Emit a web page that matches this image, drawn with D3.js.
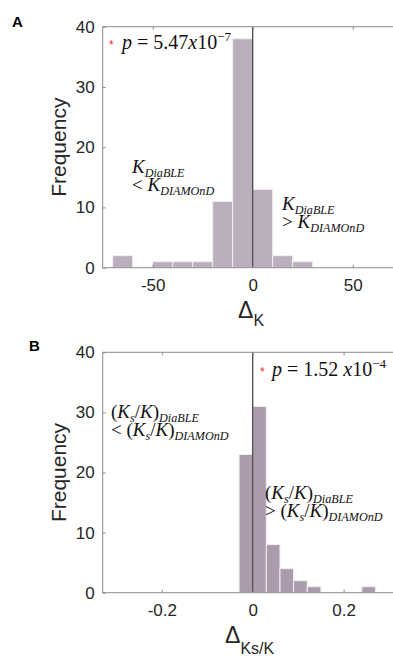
<!DOCTYPE html>
<html>
<head>
<meta charset="utf-8">
<script src="https://cdn.jsdelivr.net/npm/d3@7"></script>
<style>
  body { margin: 0; background: #fff; }
  svg { display: block; overflow: hidden; }
</style>
</head>
<body>
<svg id="chart" width="393" height="656"></svg>
<script>
// Data

// Panel A: histogram of Delta_K (bin edges and counts)
var edgesA = [-70, -60, -50, -40, -30, -20, -10, 0, 10, 20, 30];
var countsA = [2, 0, 1, 1, 1, 11, 38, 13, 2, 1];
var xTicksA = [-50, 0, 50];

// Panel B: histogram of Delta_Ks/K
var edgesB = [-0.03, 0, 0.03, 0.06, 0.09, 0.12, 0.15, 0.18, 0.21, 0.24, 0.27];
var countsB = [23, 31, 8, 4, 2, 1, 0, 0, 0, 1];
var xTicksB = [-0.2, 0, 0.2];

var yTicks = [0, 10, 20, 30, 40];

var svg = d3.select("#chart");
var sansFont = "Liberation Sans, Arial, sans-serif";
var serifFont = "Liberation Serif, Times New Roman, serif";
var left = 102.7, plotW = 300;

// Draw text made of pieces: [text, kind] where kind is
// 'i' italic, 'r' roman, 'sub' italic subscript, 'sup' superscript,
// 'br' starts a new line (lineH below the previous one)
function mathText(g, x, y, parts, size, lineH) {
  var t = g.append("text")
    .attr("x", x).attr("y", y)
    .style("font-family", serifFont)
    .style("font-size", size + "px")
    .style("fill", "#111");
  var shift = 0;
  parts.forEach(function(p) {
    if (p[1] == 'br') {
      shift -= lineH;
      return;
    }
    var target = 0, fs = size, st = "italic";
    if (p[1] == 'r') st = "normal";
    if (p[1] == 'sub') { target = size * 0.2; fs = size * 0.64; }
    if (p[1] == 'sup') { target = -size * 0.42; fs = size * 0.66; st = "normal"; }
    var ts = t.append("tspan")
      .attr("dy", target - shift)
      .style("font-size", fs + "px")
      .style("font-style", st)
      .text(p[0]);
    if (shift < -1) ts.attr("x", x);
    shift = target;
  });
  return t;
}

function drawPanel(opt) {
  var top = opt.top, bottom = opt.bottom;
  var x = d3.scaleLinear().domain(opt.xdomain).range([left, left + plotW]);
  var y = d3.scaleLinear().domain([0, 40]).range([bottom, top]);
  var g = svg.append("g");

  var bins = opt.counts.map(function(c, i) {
    return { x0: opt.edges[i], x1: opt.edges[i + 1], n: c };
  }).filter(function(d) { return d.n > 0; });

  g.selectAll("rect.bar")
    .data(bins)
    .enter().append("rect")
    .attr("class", "bar")
    .attr("x", function(d) { return x(d.x0); })
    .attr("y", function(d) { return y(d.n); })
    .attr("width", function(d) { return x(d.x1) - x(d.x0); })
    .attr("height", function(d) { return y(0) - y(d.n); })
    .attr("fill", opt.color)
    .attr("stroke", "#f2eff3")
    .attr("stroke-width", 1);

  // zero line
  g.append("line")
    .attr("x1", x(0)).attr("x2", x(0))
    .attr("y1", top).attr("y2", bottom)
    .attr("stroke", "#4a4a4a")
    .attr("stroke-width", 1.3);

  // box and inward ticks
  var axisColor = "#8c8c8c";
  g.append("rect")
    .attr("x", left).attr("y", top)
    .attr("width", plotW).attr("height", bottom - top)
    .attr("fill", "none")
    .attr("stroke", axisColor)
    .attr("stroke-width", 1);

  var yAxis = g.append("g")
    .attr("transform", "translate(" + left + ",0)")
    .call(d3.axisLeft(y).tickValues(yTicks).tickSizeInner(-3).tickSizeOuter(0).tickPadding(8));
  var xAxis = g.append("g")
    .attr("transform", "translate(0," + bottom + ")")
    .call(d3.axisBottom(x).tickValues(opt.xticks).tickSizeInner(-3).tickSizeOuter(0).tickPadding(11)
      .tickFormat(function(d) { return d == 0 ? "0" : String(d); }));
  var xTop = g.append("g")
    .attr("transform", "translate(0," + top + ")")
    .call(d3.axisTop(x).tickValues(opt.xticks).tickSizeInner(-3).tickSizeOuter(0).tickFormat(""));

  [yAxis, xAxis, xTop].forEach(function(a) {
    a.select(".domain").remove();
    a.selectAll(".tick line").attr("stroke", axisColor);
    a.selectAll("text")
      .style("font-family", sansFont)
      .style("font-size", "17px")
      .style("fill", "#262626");
  });

  // y label
  g.append("text")
    .attr("transform", "translate(66," + ((top + bottom) / 2) + ") rotate(-90)")
    .attr("text-anchor", "middle")
    .style("font-family", sansFont)
    .style("font-size", "21px")
    .style("fill", "#262626")
    .text("Frequency");

  // panel letter
  g.append("text")
    .attr("x", opt.letterX).attr("y", opt.letterY)
    .style("font-family", sansFont)
    .style("font-size", "15px")
    .style("font-weight", "bold")
    .text(opt.letter);

  // x label: Delta with subscript
  var xl = g.append("text")
    .attr("x", opt.xlabX).attr("y", opt.xlabY)
    .style("font-family", sansFont)
    .style("fill", "#262626");
  xl.append("tspan").style("font-size", "23px").text("\u0394");
  xl.append("tspan").attr("dy", opt.subDy).style("font-size", "16px").text(opt.sub);

  // p-value with red star
  g.append("text")
    .attr("x", opt.starX).attr("y", opt.pY)
    .style("font-family", sansFont)
    .style("font-size", "12px")
    .style("fill", "#ff2020")
    .text("*");
  mathText(g, opt.pX, opt.pY, opt.pParts, 20, 0);

  opt.notes.forEach(function(n) {
    mathText(g, n.x, n.y, n.parts, 19, 18);
  });
}

drawPanel({
  top: 26.7, bottom: 267.7, xdomain: [-75, 75],
  edges: edgesA, counts: countsA, xticks: xTicksA,
  color: "#bab0bd",
  letter: "A", letterX: 12, letterY: 27,
  xlabX: 238, xlabY: 318, sub: "K", subDy: 8,
  starX: 109, pX: 122, pY: 49,
  pParts: [["p", "i"], [" = 5.47", "r"], ["x", "i"], ["10", "r"], ["\u22127", "sup"]],
  notes: [
    { x: 132, y: 173, parts: [["K", "i"], ["DiaBLE", "sub"], ["", "br"], ["< ", "r"], ["K", "i"], ["DIAMOnD", "sub"]] },
    { x: 282, y: 210, parts: [["K", "i"], ["DiaBLE", "sub"], ["", "br"], ["> ", "r"], ["K", "i"], ["DIAMOnD", "sub"]] }
  ]
});

drawPanel({
  top: 352.3, bottom: 592.7, xdomain: [-0.33, 0.33],
  edges: edgesB, counts: countsB, xticks: xTicksB,
  color: "#ab9bad",
  letter: "B", letterX: 29, letterY: 351,
  xlabX: 225, xlabY: 643, sub: "Ks/K", subDy: 11,
  starX: 260, pX: 272, pY: 376,
  pParts: [["p", "i"], [" = 1.52 ", "r"], ["x", "i"], ["10", "r"], ["\u22124", "sup"]],
  notes: [
    { x: 111, y: 418, parts: [["(", "r"], ["K", "i"], ["s", "sub"], ["/", "r"], ["K", "i"], [")", "r"], ["DiaBLE", "sub"],
      ["", "br"], ["< (", "r"], ["K", "i"], ["s", "sub"], ["/", "r"], ["K", "i"], [")", "r"], ["DIAMOnD", "sub"]] },
    { x: 265, y: 499, parts: [["(", "r"], ["K", "i"], ["s", "sub"], ["/", "r"], ["K", "i"], [")", "r"], ["DiaBLE", "sub"],
      ["", "br"], ["> (", "r"], ["K", "i"], ["s", "sub"], ["/", "r"], ["K", "i"], [")", "r"], ["DIAMOnD", "sub"]] }
  ]
});
</script>
</body>
</html>
